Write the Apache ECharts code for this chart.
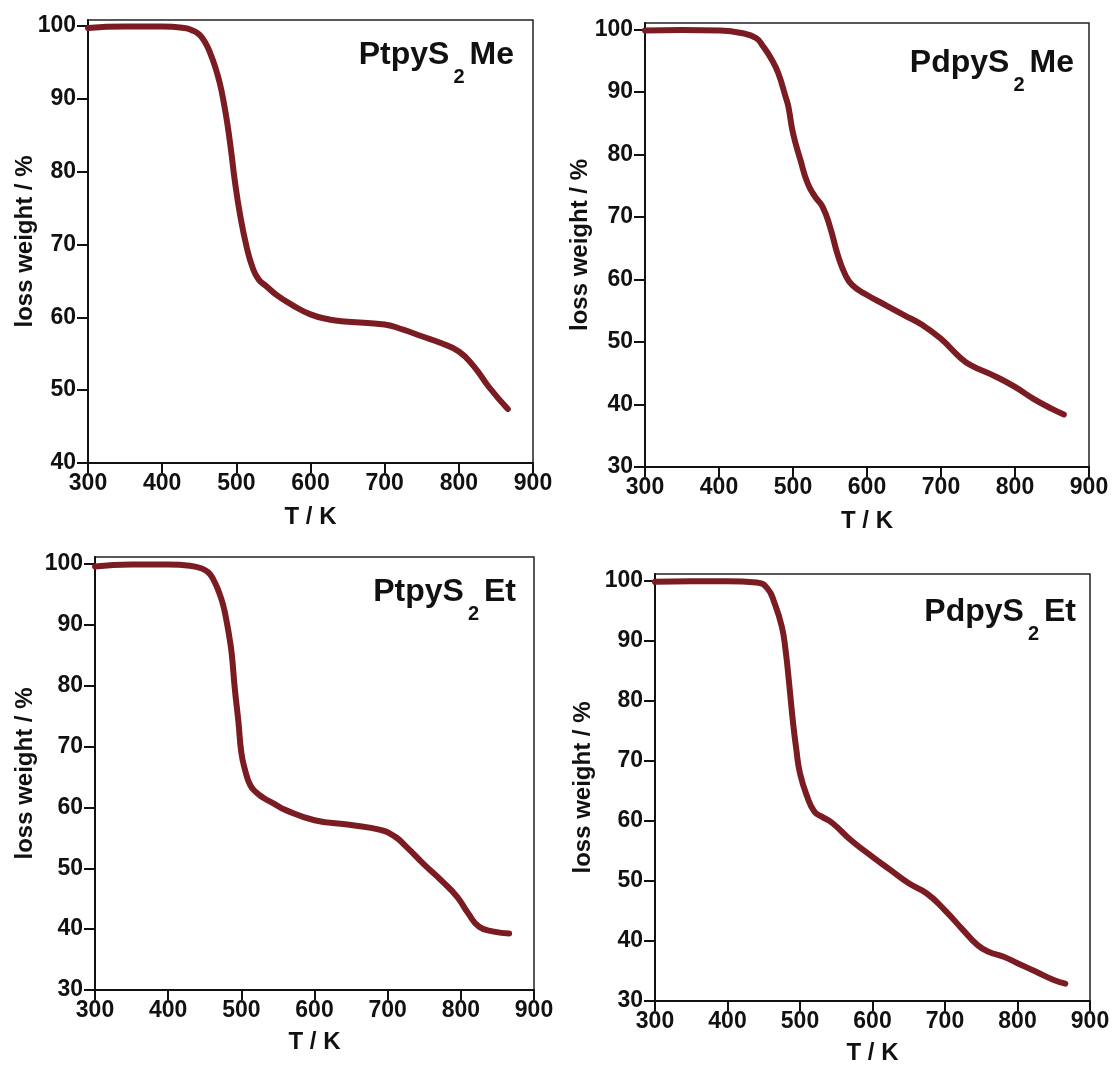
<!DOCTYPE html>
<html>
<head>
<meta charset="utf-8">
<script src="https://cdn.jsdelivr.net/npm/echarts@6/dist/echarts.min.js"></script>
<style>
  html, body { margin: 0; padding: 0; background: #fff; }
  #tgaChart { width: 1115px; height: 1073px; }
</style>
</head>
<body>
<div id="tgaChart"></div>
<script>
// temperatures (K) and weight (%)
const tPtpyMe = [300, 350, 400, 430, 440, 450, 458, 465, 472, 478, 483, 488, 493, 498, 505, 514, 522, 530, 540, 555, 575, 600, 625, 650, 700, 725, 750, 775, 800, 820, 840, 866];
const wPtpyMe = [99.7, 99.9, 99.9, 99.7, 99.4, 98.8, 97.7, 96.2, 94.2, 92.0, 89.5, 86.5, 82.8, 78.7, 74.1, 69.6, 66.8, 65.2, 64.3, 63.0, 61.7, 60.4, 59.7, 59.4, 59.0, 58.3, 57.4, 56.5, 55.3, 53.3, 50.5, 47.4];

const tPdpyMe = [300, 350, 400, 430, 450, 460, 470, 480, 490, 493, 495, 500, 510, 520, 530, 540, 550, 560, 570, 580, 600, 625, 650, 675, 700, 725, 740, 775, 800, 825, 850, 866];
const wPdpyMe = [99.8, 99.9, 99.8, 99.4, 98.6, 97.2, 95.4, 93.0, 89.2, 88.0, 86.8, 83.4, 79.1, 75.3, 73.2, 71.6, 68.4, 64.1, 60.9, 59.1, 57.5, 55.9, 54.3, 52.7, 50.5, 47.6, 46.3, 44.4, 42.8, 40.9, 39.3, 38.4];

const tPtpyEt = [300, 350, 400, 430, 445, 455, 462, 469, 475, 480, 484, 487, 491, 496, 500, 505, 512, 520, 530, 545, 560, 600, 650, 690, 710, 725, 750, 775, 795, 810, 825, 845, 866];
const wPtpyEt = [99.6, 99.9, 99.9, 99.7, 99.3, 98.6, 97.4, 95.5, 93.3, 90.5, 87.7, 85.1, 79.6, 74.1, 69.0, 66.2, 63.7, 62.5, 61.6, 60.6, 59.6, 57.9, 57.1, 56.3, 55.2, 53.6, 50.6, 47.8, 45.3, 42.6, 40.4, 39.6, 39.3];

const tPdpyEt = [300, 350, 400, 440, 455, 465, 475, 480, 485, 490, 495, 500, 510, 520, 530, 545, 570, 600, 625, 650, 675, 700, 725, 745, 760, 780, 800, 825, 850, 866];
const wPdpyEt = [99.8, 99.9, 99.9, 99.7, 98.7, 96.2, 92.3, 88.5, 82.9, 76.8, 71.8, 67.9, 64.0, 61.5, 60.7, 59.6, 56.8, 54.0, 51.8, 49.6, 47.9, 45.1, 41.8, 39.3, 38.2, 37.4, 36.3, 34.9, 33.5, 32.9];

const xTicks = [300, 400, 500, 600, 700, 800, 900];
const yTicksTop = [40, 50, 60, 70, 80, 90, 100];
const yTicks = [30, 40, 50, 60, 70, 80, 90, 100];

const panels = [
  { name: 'PtpyS', tail: 'Me', t: tPtpyMe, w: wPtpyMe, ymin: 40, ymax: 100.8, yt: yTicksTop,
    grid: { left: 88, top: 20, width: 445, height: 443 }, title: { right: 601, top: 39 }, yGap: 51, xGap: 42 },
  { name: 'PdpyS', tail: 'Me', t: tPdpyMe, w: wPdpyMe, ymin: 30, ymax: 101, yt: yTicks,
    grid: { left: 645, top: 23, width: 444, height: 444 }, title: { right: 41, top: 47 }, yGap: 53, xGap: 42 },
  { name: 'PtpyS', tail: 'Et', t: tPtpyEt, w: wPtpyEt, ymin: 30, ymax: 101.15, yt: yTicks,
    grid: { left: 95, top: 557, width: 439, height: 433 }, title: { right: 599, top: 576 }, yGap: 58, xGap: 40 },
  { name: 'PdpyS', tail: 'Et', t: tPdpyEt, w: wPdpyEt, ymin: 30, ymax: 101.1, yt: yTicks,
    grid: { left: 655, top: 574, width: 435, height: 427 }, title: { right: 39, top: 596 }, yGap: 60, xGap: 40 }
];

const font = "'Liberation Sans', Arial, sans-serif";
const lineColor = '#7a1c22';

const initChart = function () {
  const myChart = echarts.init(document.getElementById('tgaChart'));
  const option = {
    backgroundColor: '#fff',
    animation: false,
    title: [],
    grid: [],
    xAxis: [],
    yAxis: [],
    series: []
  };

  panels.forEach((p, i) => {
    option.title.push({
      text: '{a|' + p.name + '}{s|2}{a|' + p.tail + '}',
      right: p.title.right,
      top: p.title.top,
      padding: 0,
      textStyle: {
        rich: {
          a: { fontFamily: font, fontWeight: 'bold', fontSize: 32, lineHeight: 36, color: '#111', verticalAlign: 'top' },
          s: { fontFamily: font, fontWeight: 'bold', fontSize: 20, color: '#111', verticalAlign: 'bottom', padding: [28, 5, 0, 4] }
        }
      }
    });

    option.grid.push(Object.assign({
      show: true,
      borderColor: '#222',
      borderWidth: 1.5,
      backgroundColor: 'transparent'
    }, p.grid));

    option.xAxis.push({
      type: 'value',
      gridIndex: i,
      min: 300,
      max: 900,
      interval: 100,
      name: 'T / K',
      nameLocation: 'middle',
      nameGap: p.xGap,
      nameMoveOverlap: false,
      nameTextStyle: { fontFamily: font, fontWeight: 'bold', fontSize: 24, color: '#111' },
      axisLine: { lineStyle: { color: '#111', width: 2 } },
      axisTick: { show: true, length: 10, lineStyle: { color: '#111', width: 2 } },
      axisLabel: {
        margin: 9,
        fontFamily: font,
        fontWeight: 'bold',
        fontSize: 23,
        color: '#111',
        customValues: xTicks
      },
      splitLine: { show: false }
    });

    option.yAxis.push({
      type: 'value',
      gridIndex: i,
      min: p.ymin,
      max: p.ymax,
      name: 'loss weight / %',
      nameLocation: 'middle',
      nameGap: p.yGap,
      nameMoveOverlap: false,
      nameRotate: 90,
      nameTextStyle: { fontFamily: font, fontWeight: 'bold', fontSize: 24, color: '#111' },
      axisLine: { show: true, lineStyle: { color: '#111', width: 2 } },
      axisTick: { show: true, length: 11, lineStyle: { color: '#111', width: 2 }, customValues: p.yt },
      axisLabel: {
        margin: 12,
        fontFamily: font,
        fontWeight: 'bold',
        fontSize: 23,
        color: '#111',
        customValues: p.yt
      },
      splitLine: { show: false }
    });

    option.series.push({
      type: 'line',
      xAxisIndex: i,
      yAxisIndex: i,
      data: p.t.map((t, k) => [t, p.w[k]]),
      showSymbol: false,
      smooth: 0.5,
      lineStyle: { color: lineColor, width: 6, cap: 'round', join: 'round' }
    });
  });

  myChart.setOption(option);
};

initChart();
</script>
</body>
</html>
